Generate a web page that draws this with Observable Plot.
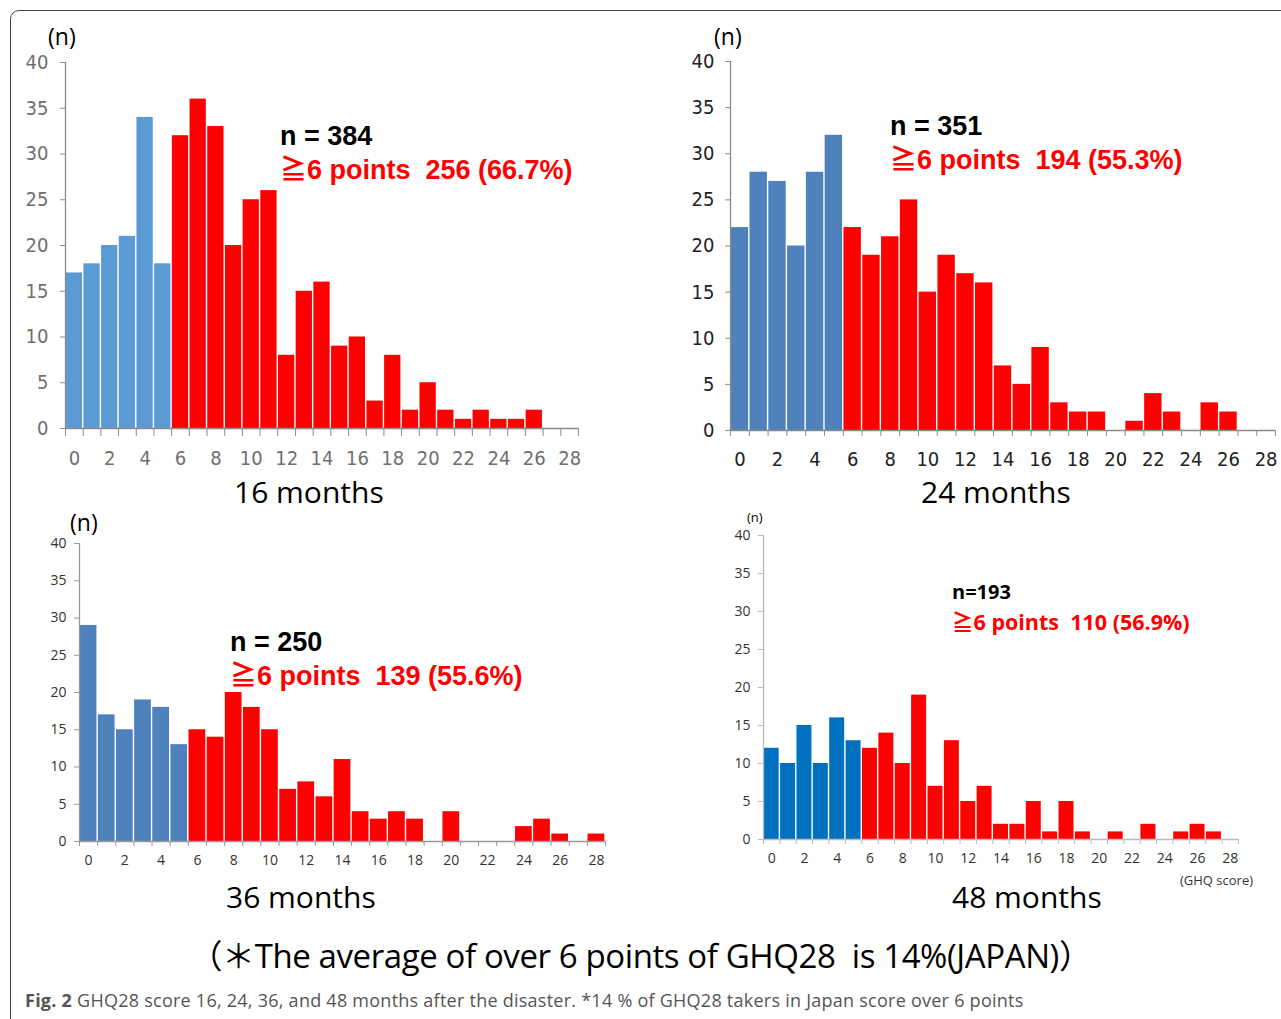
<!DOCTYPE html>
<html>
<head>
<meta charset="utf-8">
<script src="https://cdn.jsdelivr.net/npm/d3@7"></script>
<script src="https://cdn.jsdelivr.net/npm/@observablehq/plot@0.6"></script>
<style>
  html, body { margin: 0; padding: 0; background: #fff; }
  #page { position: relative; width: 1281px; height: 1019px; overflow: hidden; background: #fff; }
  .frame { position: absolute; left: 10px; top: 10px; width: 1290px; height: 1018px; border: 1.5px solid #444; border-radius: 9px; }
  .panel { position: absolute; }
  .lbl { position: absolute; white-space: pre; line-height: 1; }
  .title { font-family: "Open Sans", "Noto Sans", sans-serif; font-size: 30px; color: #000; }
  .nlab { font-family: "Liberation Sans", Arial, sans-serif; font-weight: bold; font-size: 27px; color: #000; }
  .hlab { font-family: "Liberation Sans", Arial, "Noto Sans CJK JP", sans-serif; font-weight: bold; font-size: 27px; color: #FF0000; }
  .unit { font-family: "Open Sans", "Noto Sans", sans-serif; color: #000; }
</style>
</head>
<body>
<div id="page">
  <div class="frame"></div>
</div>
<script>
// ---- data ----
const scores = [0,1,2,3,4,5,6,7,8,9,10,11,12,13,14,15,16,17,18,19,20,21,22,23,24,25,26,27,28];
const xTickLabels = [0,2,4,6,8,10,12,14,16,18,20,22,24,26,28];
const yTicks = [0,5,10,15,20,25,30,35,40];
const threshold = 6;
const counts16 = [17,18,20,21,34,18,32,36,33,20,25,26,8,15,16,9,10,3,8,2,5,2,1,2,1,1,2,0,0];
const counts24 = [22,28,27,20,28,32,22,19,21,25,15,19,17,16,7,5,9,3,2,2,0,1,4,2,0,3,2,0,0];
const counts36 = [29,17,15,19,18,13,15,14,20,18,15,7,8,6,11,4,3,4,3,0,4,0,0,0,2,3,1,0,1];
const counts48 = [12,10,15,10,16,13,12,14,10,19,7,13,5,7,2,2,5,1,5,1,0,1,0,2,0,1,2,1,0];
const panelTitles = ["16 months", "24 months", "36 months", "48 months"];
const nTexts = ["n = 384", "n = 351", "n = 250", "n=193"];
const highTexts = ["≧6 points  256 (66.7%)", "≧6 points  194 (55.3%)", "≧6 points  139 (55.6%)", "≧6 points  110 (56.9%)"];
const noteText = "（＊The average of over 6 points of GHQ28  is 14%(JAPAN)）";
const captionBold = "Fig. 2";
const captionText = " GHQ28 score 16, 24, 36, and 48 months after the disaster. *14 % of GHQ28 takers in Japan score over 6 points";

const page = document.getElementById("page");

function makePanel(counts, o) {
  const data = scores.map((s, i) => ({score: s, n: counts[i]})).filter(d => d.n > 0);
  const edges = scores.map(s => s - 0.5).concat([scores[scores.length - 1] + 0.5]);
  const plot = Plot.plot({
    width: o.w, height: o.h,
    marginLeft: o.ml, marginRight: o.mr, marginTop: o.mt, marginBottom: o.mb,
    x: {domain: [-0.5, 28.5], axis: null},
    y: {domain: [0, 40], axis: null},
    color: {type: "identity"},
    style: {fontFamily: o.font, fontSize: o.fs + "px", fontStretch: o.stretch || "normal", background: "transparent", overflow: "visible"},
    marks: [
      Plot.rectY(data, {
        x1: d => d.score - 0.5, x2: d => d.score + 0.5, y: "n",
        fill: d => d.score < threshold ? o.blue : "#FF0000",
        insetLeft: 0.7, insetRight: 0.7
      }),
      Plot.ruleY([0], {stroke: o.axis, strokeWidth: 1.3}),
      Plot.ruleX([-0.5], {stroke: o.axis, strokeWidth: 1.3}),
      Plot.axisX(edges, {tickSize: o.xts, tickFormat: () => "", stroke: o.axis, label: null}),
      Plot.axisX(xTickLabels, {tickSize: 0, tickPadding: o.xtp, fill: o.text, label: null}),
      Plot.axisY(yTicks, {tickSize: 5, tickPadding: o.ytp, stroke: o.axis, fill: o.text, label: null})
    ]
  });
  plot.classList.add("panel");
  plot.style.left = o.left + "px";
  plot.style.top = o.top + "px";
  page.appendChild(plot);
}

function addLabel(text, cls, left, top, extra) {
  const d = document.createElement("div");
  d.className = "lbl " + cls;
  d.textContent = text;
  d.style.left = left + "px";
  d.style.top = top + "px";
  if (extra) Object.assign(d.style, extra);
  page.appendChild(d);
  return d;
}

const narrow = '"DejaVu Sans Condensed", "DejaVu Sans", sans-serif';

makePanel(counts16, {left: 0, top: 40, w: 600, h: 440, ml: 65, mr: 22, mt: 22, mb: 52, stretch: "condensed",
  blue: "#5B9BD5", axis: "#8a8a8a", text: "#6f6f6f", font: narrow, fs: 20, xts: 8, xtp: 22, ytp: 12});
makePanel(counts24, {left: 680, top: 40, w: 601, h: 440, ml: 50, mr: 6, mt: 21, mb: 50, stretch: "condensed",
  blue: "#4F81BD", axis: "#8a8a8a", text: "#222", font: narrow, fs: 20, xts: 6, xtp: 21, ytp: 11});
makePanel(counts36, {left: 20, top: 520, w: 600, h: 360, ml: 59, mr: 15, mt: 23, mb: 39,
  blue: "#4F81BD", axis: "#999", text: "#333", font: '"Open Sans", sans-serif', fs: 14, xts: 5, xtp: 14, ytp: 8});
makePanel(counts48, {left: 700, top: 515, w: 580, h: 360, ml: 63, mr: 42, mt: 20, mb: 36,
  blue: "#0070C0", axis: "#bbb", text: "#333", font: '"Open Sans", sans-serif', fs: 14, xts: 5, xtp: 14, ytp: 8});

// annotations
addLabel(nTexts[0], "nlab", 280, 123);
addLabel(highTexts[0], "hlab", 280, 157);
addLabel(nTexts[1], "nlab", 890, 113);
addLabel(highTexts[1], "hlab", 890, 147);
addLabel(nTexts[2], "nlab", 230, 629);
addLabel(highTexts[2], "hlab", 230, 663);
addLabel(nTexts[3], "nlab", 952, 582, {fontFamily: '"Open Sans", sans-serif', fontSize: "20px"});
addLabel(highTexts[3], "hlab", 952, 611, {fontFamily: '"Open Sans", "Noto Sans CJK JP", sans-serif', fontSize: "21.5px", fontWeight: "bold", letterSpacing: "0px"});

// panel titles
addLabel(panelTitles[0], "title", 234, 477);
addLabel(panelTitles[1], "title", 921, 477);
addLabel(panelTitles[2], "title", 226, 882);
addLabel(panelTitles[3], "title", 952, 882);

// unit labels
addLabel("(n)", "unit", 48, 25, {fontSize: "23px"});
addLabel("(n)", "unit", 714, 25, {fontSize: "23px"});
addLabel("(n)", "unit", 70, 511, {fontSize: "23px"});
addLabel("(n)", "unit", 747, 511, {fontSize: "13px"});
addLabel("(GHQ score)", "unit", 1180, 874, {fontSize: "13px", color: "#333"});

// bottom note and caption
addLabel(noteText, "unit", 0, 939, {width: "1281px", textAlign: "center", fontSize: "33px", fontFamily: '"Open Sans", "Noto Sans CJK JP", sans-serif', letterSpacing: "-0.4px"});
const cap = addLabel("", "unit", 25, 991, {fontSize: "18px", color: "#555", fontFamily: '"Open Sans", sans-serif', letterSpacing: "0.25px"});
const b = document.createElement("b"); b.textContent = captionBold; cap.appendChild(b);
cap.appendChild(document.createTextNode(captionText));
</script>
</body>
</html>
